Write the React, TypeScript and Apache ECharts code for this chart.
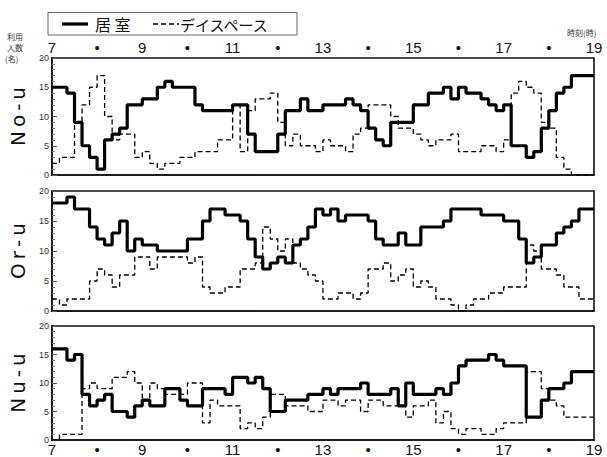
import React, { useEffect, useRef } from 'react';
import * as echarts from 'echarts';

// time axis (hours) and sampling step of the data (minutes)
const startHour = 7;
const endHour = 19;
const stepMinutes = 10;

// No-u
const noRoom = [15,15,14,9,5,3,1,6,7,8, 12,12,13,13,15,16,15,15,15,12, 11,11,11,11,12,12,7,4,4,4, 7,11,11,13,11,11,12,12,12,13, 12,11,8,6,5,9,9,9,12,12, 14,14,15,13,15,14,14,13,12,11, 12,5,5,3,4,8,11,14,15,17, 17,17];
const noDay = [2,3,3,9,12,15,17,10,6,7, 7,3,4,2,1,2,2,3,3,4, 4,4,6,6,12,4,11,13,13,14, 9,5,7,5,5,4,6,5,5,4, 7,8,12,12,12,10,8,8,7,6, 5,6,6,7,4,4,4,5,5,4, 6,14,16,15,14,9,8,3,1,0, 0,0];
// Or-u
const orRoom = [18,18,19,17,17,14,12,11,13,15, 10,12,11,11,10,10,10,10,12,12, 15,17,17,16,16,15,12,9,7,8, 9,8,11,12,14,17,16,17,15,16, 16,16,15,12,11,11,13,11,11,14, 14,14,15,17,17,17,17,16,16,16, 15,15,12,8,9,11,11,13,14,15, 17,17];
const orDay = [2,1,2,2,2,5,7,6,4,6, 6,9,9,7,9,9,9,9,8,9, 4,3,3,4,4,7,7,8,14,12, 10,12,8,7,6,5,2,2,3,3, 2,3,7,7,8,5,6,7,4,5, 4,2,2,1,0,1,2,2,3,3, 4,4,4,11,10,7,7,6,4,4, 2,2];
// Nu-u
const nuRoom = [16,16,14,15,8,6,7,8,5,5, 4,6,7,6,6,9,9,7,6,6, 9,9,9,8,11,11,10,11,9,5, 5,7,7,7,8,8,9,8,9,9, 9,10,8,8,8,9,6,10,8,8, 8,9,8,10,13,14,14,14,15,14, 13,13,13,4,4,7,9,9,10,12, 12,12];
const nuDay = [0,1,1,1,9,10,9,9,11,11, 12,10,7,10,9,8,8,8,10,10, 3,7,6,6,6,2,3,2,4,8, 8,6,6,6,5,5,7,7,6,7, 7,5,7,7,6,6,6,4,6,6, 7,3,5,2,1,2,2,1,1,2, 3,3,3,12,12,9,7,6,4,4, 4,4];

const panelNames = ['N\u2009o\u2009-\u2009u', 'O\u2009r\u2009-\u2009u', 'N\u2009u\u2009-\u2009u'];
const roomName = '居 室';
const dayName = 'デイスペース';
const roomSeries = [noRoom, orRoom, nuRoom];
const daySeries = [noDay, orDay, nuDay];

const yMin = 0;
const yMax = 20;
const yInterval = 5;

function toSteps(vals: number[]): [number, number][] {
  const pts: [number, number][] = vals.map((v, i) => [startHour + (i * stepMinutes) / 60, v]);
  pts.push([endHour, vals[vals.length - 1]]);
  return pts;
}

const numFont = '"Liberation Sans Narrow", "Liberation Sans", Arial, sans-serif';
const jpFont = '"Noto Sans CJK JP", sans-serif';

const solidStyle = { color: '#000', width: 3.2 };
const dashStyle = { color: '#000', width: 1.3, type: [5, 3] as number[] };

export default function App() {
  const ref = useRef<HTMLDivElement>(null);
  useEffect(() => {
    if (!ref.current) return;
    const chart = echarts.init(ref.current, undefined, { renderer: 'svg' });
    const grids = [
      { left: 48, right: 13, top: 58, height: 117 },
      { left: 48, right: 13, top: 191, height: 120 },
      { left: 48, right: 13, top: 326, height: 117 },
    ].map((g) => ({ ...g, show: true, borderColor: '#111', borderWidth: 1.6, backgroundColor: 'transparent' }));

    const xAxes = [0, 1, 2].map((i) => ({
      type: 'value',
      gridIndex: i,
      min: startHour,
      max: endHour,
      interval: 1,
      position: i === 0 ? 'top' : 'bottom',
      axisLine: { show: true, lineStyle: { color: '#111', width: 1.6 } },
      axisTick: { show: false },
      splitLine: { show: false },
      axisLabel: {
        show: i !== 1,
        margin: i === 0 ? 3 : 2,
        fontSize: 15,
        fontFamily: numFont,
        color: '#111',
        formatter: (v: number) => (v % 2 === 1 ? String(v) : '•'),
      },
    }));

    const yAxes = [0, 1, 2].map((i) => ({
      type: 'value',
      gridIndex: i,
      min: yMin,
      max: yMax,
      interval: yInterval,
      name: panelNames[i],
      nameLocation: 'middle',
      nameRotate: 90,
      nameGap: 23,
      nameTextStyle: { fontSize: 20, fontFamily: '"DejaVu Sans", sans-serif', color: '#111' },
      axisLine: { show: true, lineStyle: { color: '#111', width: 1.6 } },
      axisTick: { show: true, inside: true, length: 5, lineStyle: { color: '#555', width: 1 } },
      minorTick: { show: true, splitNumber: 5, length: 3, lineStyle: { color: '#777', width: 1 } },
      splitLine: { show: false },
      axisLabel: { fontSize: 9, fontFamily: numFont, color: '#333', margin: 3 },
    }));

    const series: any[] = [];
    for (let i = 0; i < 3; i++) {
      series.push({
        type: 'line',
        name: dayName,
        xAxisIndex: i,
        yAxisIndex: i,
        step: 'end',
        symbol: 'none',
        data: toSteps(daySeries[i]),
        lineStyle: dashStyle,
        z: 2,
      });
      series.push({
        type: 'line',
        name: roomName,
        xAxisIndex: i,
        yAxisIndex: i,
        step: 'end',
        symbol: 'none',
        data: toSteps(roomSeries[i]),
        lineStyle: solidStyle,
        z: 3,
      });
    }

    const legendY = 24;
    chart.setOption({
      animation: false,
      backgroundColor: '#fff',
      color: ['#000', '#000'],
      grid: grids,
      xAxis: xAxes,
      yAxis: yAxes,
      series,
      graphic: [
        // legend box
        { type: 'rect', shape: { x: 48, y: 12.5, width: 249, height: 22.5 }, style: { fill: 'none', stroke: '#666', lineWidth: 1 } },
        { type: 'line', shape: { x1: 62, y1: legendY, x2: 88, y2: legendY }, style: { stroke: '#000', lineWidth: 3.2 } },
        { type: 'text', x: 95, y: legendY, style: { text: roomName, fontSize: 16, fontFamily: jpFont, fill: '#111', verticalAlign: 'middle' } },
        { type: 'line', shape: { x1: 153, y1: legendY, x2: 179, y2: legendY }, style: { stroke: '#000', lineWidth: 1.3, lineDash: [5, 3] } },
        { type: 'text', x: 180, y: legendY, style: { text: dayName, fontSize: 15, fontFamily: jpFont, fill: '#111', verticalAlign: 'middle' } },
        // axis captions
        { type: 'text', left: 7, top: 32, style: { text: '利用', fontSize: 8, fontFamily: jpFont, fill: '#333' } },
        { type: 'text', left: 7, top: 43, style: { text: '人数', fontSize: 8, fontFamily: jpFont, fill: '#333' } },
        { type: 'text', left: 5, top: 54, style: { text: '(名)', fontSize: 8, fontFamily: jpFont, fill: '#333' } },
        { type: 'text', left: 567, top: 28, style: { text: '時刻(時)', fontSize: 8, fontFamily: jpFont, fill: '#333' } },
      ],
    });
    return () => chart.dispose();
  }, []);
  return (
    <div
      ref={ref}
      style={{ position: 'absolute', left: 0, top: 0, width: 607, height: 457, background: '#fff' }}
    />
  );
}
